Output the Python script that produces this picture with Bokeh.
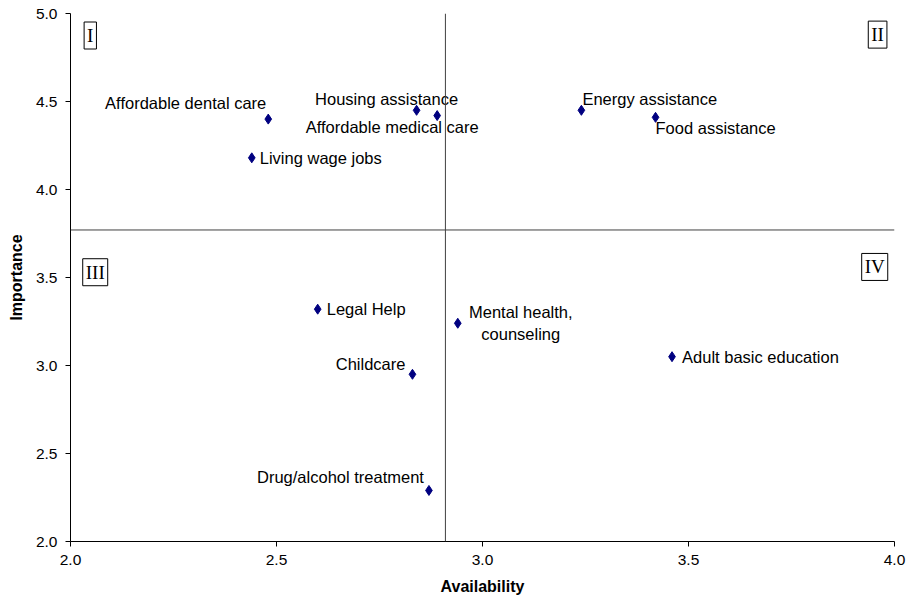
from bokeh.plotting import figure
from bokeh.models import ColumnDataSource, Span, Label, Range1d, NumeralTickFormatter, FixedTicker
from bokeh.embed import file_html
from bokeh.resources import INLINE
from bokeh.core.properties import value

# ---- data ----
services = ["Affordable dental care", "Living wage jobs", "Housing assistance",
            "Affordable medical care", "Energy assistance", "Food assistance",
            "Legal Help", "Mental health,\ncounseling", "Childcare",
            "Adult basic education", "Drug/alcohol treatment"]
availability = [2.48, 2.44, 2.84, 2.89, 3.24, 3.42, 2.60, 2.94, 2.83, 3.46, 2.87]
importance = [4.40, 4.18, 4.45, 4.42, 4.45, 4.41, 3.32, 3.24, 2.95, 3.05, 2.29]
avail_split = 2.91
imp_split = 3.77
x_ticks = [2.0, 2.5, 3.0, 3.5, 4.0]
y_ticks = [2.0, 2.5, 3.0, 3.5, 4.0, 4.5, 5.0]
quadrant_names = ["I", "II", "III", "IV"]
quadrant_x = [2.048, 3.959, 2.06, 3.952]
quadrant_y = [4.875, 4.88, 3.53, 3.56]

# ---- label layout (screen offsets) ----
label_align = ["right", "left", "center", "center", "left", "left", "left", "center", "right", "left", "right"]
label_dx = [-2, 8, -30, -45, 1, 0, 9, 63, -7, 10, -5]
label_dy = [-16, 0, -11, 11, -11, 11, 0, 0, -10, 0, -13]

FONT = "Liberation Sans"

p = figure(width=906, height=597, output_backend="svg", toolbar_location=None,
           x_range=Range1d(2.0, 4.0), y_range=Range1d(2.0, 5.0),
           min_border_top=13, min_border_right=12, min_border_left=70, min_border_bottom=56)
p.outline_line_color = None
p.xgrid.grid_line_color = None
p.ygrid.grid_line_color = None
p.background_fill_color = "white"
p.border_fill_color = "white"

for ax, ticks in ((p.xaxis, x_ticks), (p.yaxis, y_ticks)):
    ax.ticker = FixedTicker(ticks=ticks)
    ax.formatter = NumeralTickFormatter(format="0.0")
    ax.minor_tick_line_color = None
    ax.major_tick_in = 0
    ax.major_tick_out = 5
    ax.axis_line_color = "black"
    ax.major_tick_line_color = "black"
    ax.major_label_text_font = FONT
    ax.major_label_text_font_size = "15.5px"
    ax.major_label_text_color = "black"
    ax.major_label_standoff = 8
    ax.axis_label_text_font = FONT
    ax.axis_label_text_font_size = "16px"
    ax.axis_label_text_font_style = "bold"
    ax.axis_label_text_color = "black"

p.xaxis.axis_label = "Availability"
p.yaxis.axis_label = "Importance"
p.xaxis.axis_label_standoff = 10
p.yaxis.axis_label_standoff = 8

p.add_layout(Span(location=avail_split, dimension="height", line_color="#404040", line_width=1))
p.add_layout(Span(location=imp_split, dimension="width", line_color="#404040", line_width=1))

src = ColumnDataSource(dict(x=availability, y=importance, name=services,
                            align=label_align, dx=label_dx, dy=label_dy))
p.scatter("x", "y", source=src, marker="diamond", size=10, fill_color="#000080", line_color="#000080")
p.text("x", "y", text="name", source=src, text_align="align", text_baseline="middle",
       x_offset="dx", y_offset="dy", text_font=value(FONT), text_font_size="16.5px",
       text_color="black", text_line_height=1.2)

for name, qx, qy in zip(quadrant_names, quadrant_x, quadrant_y):
    p.add_layout(Label(x=qx, y=qy, text=name, text_align="center", text_baseline="middle",
                       text_font="Liberation Serif", text_font_size="19px", text_color="black",
                       border_line_color="black", border_line_width=1,
                       background_fill_color="white", padding=3))

open("out.html", "w").write(file_html(p, INLINE))
